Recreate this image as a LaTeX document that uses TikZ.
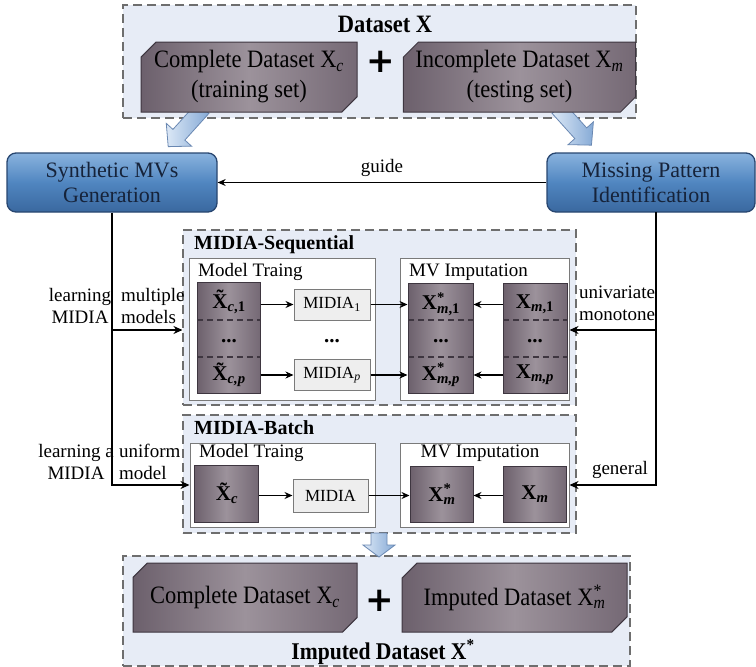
\documentclass[tikz,border=0pt]{standalone}
\usepackage{fontspec}
\setmainfont{Liberation Serif}
\newfontfamily\tall{Liberation Serif}[FakeStretch=0.9]
\newfontfamily\plusfont{DejaVu Sans}
\usetikzlibrary{shapes.misc,arrows.meta}
\definecolor{panel}{HTML}{E7ECF6}
\definecolor{paneledge}{HTML}{6E6E6E}
\definecolor{mauveL}{HTML}{6C606C}
\definecolor{mauveM}{HTML}{9C929B}
\definecolor{mauveR}{HTML}{756975}
\definecolor{mauveEdge}{HTML}{3E3640}
\definecolor{blueT}{HTML}{8AB3DE}
\definecolor{blueM}{HTML}{5086C0}
\definecolor{blueB}{HTML}{3A689F}
\definecolor{blueEdge}{HTML}{284670}
\definecolor{blueText}{HTML}{16233A}
\definecolor{arrL}{HTML}{DCE8F6}
\definecolor{arrR}{HTML}{86AAD6}
\definecolor{arrEdge}{HTML}{6A88B2}
\definecolor{boxedge}{HTML}{7A7A7A}
\definecolor{midiafill}{HTML}{EEEEEE}
\newcommand\Xstar[1]{X\rlap{\textsuperscript{*}}\textsubscript{#1}}
\tikzset{
  panelbox/.style={draw=paneledge, line width=1.1pt, dash pattern=on 9pt off 5pt, fill=panel, inner sep=0pt},
  databox/.style={chamfered rectangle, chamfered rectangle corners={north west,south east},
    chamfered rectangle xsep=12pt, chamfered rectangle angle=45, draw=mauveEdge, line width=1pt,
    left color=mauveL, right color=mauveR, middle color=mauveM, inner sep=0pt, align=center,
    font=\tall\fontsize{25}{30}\selectfont},
  stackbox/.style={chamfered rectangle, chamfered rectangle corners={north east,south west},
    chamfered rectangle xsep=9pt, chamfered rectangle angle=45, draw=mauveEdge, line width=1pt,
    left color=mauveL, right color=mauveR, middle color=mauveM, inner sep=0pt},
  stk/.style={font=\fontsize{21}{24}\selectfont\bfseries, inner sep=1pt},
  bluebox/.style={rounded corners=9pt, draw=blueEdge, line width=1.3pt, top color=blueT,
    bottom color=blueB, middle color=blueM, text=blueText, align=center, inner sep=0pt,
    font=\fontsize{22}{25}\selectfont},
  whitebox/.style={draw=boxedge, line width=1pt, fill=white, inner sep=0pt},
  midiabox/.style={draw=boxedge, line width=1pt, fill=midiafill, inner sep=0pt, font=\fontsize{17}{20}\selectfont},
  ttl/.style={font=\fontsize{20}{24}\selectfont\bfseries, anchor=west, inner sep=0pt},
  subttl/.style={font=\fontsize{19}{22}\selectfont, inner sep=0pt},
  lbl/.style={font=\fontsize{19}{22}\selectfont, align=center, inner sep=0pt},
  plussign/.style={font=\plusfont\bfseries\fontsize{34}{34}\selectfont, inner sep=0pt},
  conn/.style={line width=1.1pt, -{Stealth[length=8pt,width=7pt]}},
  wire/.style={line width=1.5pt, -{Stealth[length=9pt,width=8pt]}},
  sepline/.style={draw=mauveEdge, line width=1.2pt, dash pattern=on 6pt off 4pt},
  barrow/.style={draw=arrEdge, line width=0.8pt, left color=arrL, right color=arrR}
}
\begin{document}
\begin{tikzpicture}[x=1pt,y=-1pt]
\useasboundingbox (0,0) rectangle (756,667);
% ---------- top panel ----------
\node[panelbox, minimum width=513pt, minimum height=113pt] (P0) at (379.5,61.5) {};
\node[font=\tall\bfseries\fontsize{25}{28}\selectfont, inner sep=0pt] (T0) at (385,24) {Dataset X};
\path[barrow, shift={(203,108)}, rotate=228] (0,-8) -- (36,-8) -- (36,-17) -- (52,0) -- (36,17) -- (36,8) -- (0,8) -- cycle;
\path[barrow, shift={(558,108)}, rotate=-48] (0,-8) -- (34,-8) -- (34,-17) -- (50,0) -- (34,17) -- (34,8) -- (0,8) -- cycle;
\node[databox, minimum width=216pt, minimum height=70pt] (A) at (249,77) {Complete Dataset X\textsubscript{\textit{c}}\\(training set)};
\node[databox, minimum width=225pt, minimum height=70pt] (B) at (519.5,77) {Incomplete Dataset X\textsubscript{\textit{m}}\\(testing set)};
\node[plussign] (pl1) at (381,62) {+};
% ---------- blue boxes ----------
\node[bluebox, minimum width=210pt, minimum height=59pt] (S) at (112,182.5) {Synthetic MVs\\Generation};
\node[bluebox, minimum width=208pt, minimum height=59pt] (M) at (651,182.5) {Missing Pattern\\Identification};
\draw[conn] (M.west) -- (S.east) node[lbl, midway, above=5pt] (g) {guide};
% ---------- sequential panel ----------
\node[panelbox, minimum width=393pt, minimum height=175pt] (Pseq) at (379.5,317.5) {};
\node[ttl] (Tseq) at (194,245) {MIDIA-Sequential};
\node[whitebox, minimum width=186pt, minimum height=142pt] (MTs) at (282,329) {};
\node[subttl, anchor=west] (MTsT) at (198,272) {Model Traing};
\node[whitebox, minimum width=169pt, minimum height=142pt] (MVs) at (484.5,329) {};
\node[subttl, anchor=west] (MVsT) at (409,272) {MV Imputation};
\node[stackbox, minimum width=63pt, minimum height=111pt] (XcS) at (228.5,337.5) {};
\draw[sepline] (197,320) -- (260,320);
\draw[sepline] (197,357) -- (260,357);
\node[stk] (xc1) at (229,302) {\~{X}\textsubscript{\textit{c},1}};
\node[stk] (xcd) at (229,341) {...};
\node[stk] (xcp) at (229,375) {\~{X}\textsubscript{\textit{c,p}}};
\node[midiabox, minimum width=76pt, minimum height=31pt] (MD1) at (332,304.5) {MIDIA\textsubscript{1}};
\node[stk] (mdd) at (332,341) {...};
\node[midiabox, minimum width=76pt, minimum height=31pt] (MDp) at (332,375) {MIDIA\textsubscript{\textit{p}}};
\node[stackbox, minimum width=65pt, minimum height=110pt] (XsS) at (440.5,338) {};
\draw[sepline] (408,320) -- (473,320);
\draw[sepline] (408,357) -- (473,357);
\node[stk] (xs1) at (441,304) {\Xstar{\textit{m},1}};
\node[stk] (xsd) at (441,341) {...};
\node[stk] (xsp) at (441,375) {\Xstar{\textit{m,p}}};
\node[stackbox, minimum width=64pt, minimum height=110pt] (XmS) at (535,338) {};
\draw[sepline] (503,320) -- (567,320);
\draw[sepline] (503,357) -- (567,357);
\node[stk] (xm1) at (535,304) {X\textsubscript{\textit{m},1}};
\node[stk] (xmd) at (535,341) {...};
\node[stk] (xmp) at (535,375) {X\textsubscript{\textit{m,p}}};
\draw[conn] (MD1.west -| XcS.east) -- (MD1.west);
\draw[conn] (MDp.west -| XcS.east) -- (MDp.west);
\draw[conn] (MD1.east) -- (MD1.east -| XsS.west);
\draw[conn] (MDp.east) -- (MDp.east -| XsS.west);
\draw[conn] (MD1.east -| XmS.west) -- (MD1.east -| XsS.east);
\draw[conn] (MDp.east -| XmS.west) -- (MDp.east -| XsS.east);
% ---------- batch panel ----------
\node[panelbox, minimum width=393pt, minimum height=118pt] (Pbat) at (379.5,474) {};
\node[ttl] (Tbat) at (194,428) {MIDIA-Batch};
\node[whitebox, minimum width=185pt, minimum height=84pt] (MTb) at (282.5,485) {};
\node[subttl, anchor=west] (MTbT) at (199,453) {Model Traing};
\node[whitebox, minimum width=169pt, minimum height=84pt] (MVb) at (484.5,485) {};
\node[subttl] (MVbT) at (480,453) {MV Imputation};
\node[stackbox, minimum width=64pt, minimum height=57pt] (Xcb) at (226,493.5) {};
\node[stk] (xcbt) at (227,493) {\~{X}\textsubscript{\textit{c}}};
\node[midiabox, minimum width=75pt, minimum height=33pt] (MD) at (330.5,495.5) {MIDIA};
\node[stackbox, minimum width=63pt, minimum height=56pt] (Xsb) at (441.5,494) {};
\node[stk] (xsbt) at (442,494) {\Xstar{\textit{m}}};
\node[stackbox, minimum width=63pt, minimum height=56pt] (Xmb) at (534.5,494) {};
\node[stk] (xmbt) at (535,494) {X\textsubscript{\textit{m}}};
\draw[conn] (MD.west -| Xcb.east) -- (MD.west);
\draw[conn] (MD.east) -- (MD.east -| Xsb.west);
\draw[conn] (MD.east -| Xmb.west) -- (MD.east -| Xsb.east);
% ---------- side wires ----------
\coordinate (jl) at (112,330);
\coordinate (jr) at (656,330);
\coordinate (mr) at (656,212);
\draw[wire] (S.south) |- (MTb.west);
\draw[wire] (jl) -- (jl -| Pseq.west);
\draw[wire] (mr) |- (MVb.east);
\draw[wire] (jr) -- (jr -| MVs.east);
\node[lbl] (l1a) at (80,306) {learning\\MIDIA};
\node[lbl, anchor=west, align=left] (l1b) at (121,306) {multiple\\models};
\node[lbl] (l2a) at (76,462) {learning a\\MIDIA};
\node[lbl, anchor=west, align=left] (l2b) at (119,462) {uniform\\model};
\node[lbl] (l3) at (617,303) {univariate\\monotone};
\node[lbl] (l4) at (620,470) {general};
% ---------- bottom panel ----------
\node[panelbox, minimum width=507pt, minimum height=110pt] (P1) at (376.5,611) {};
\path[barrow, shift={(379,533)}, rotate=-90] (0,-8) -- (12,-8) -- (12,-16) -- (24,0) -- (12,16) -- (12,8) -- (0,8) -- cycle;
\node[databox, minimum width=224pt, minimum height=69pt] (C) at (245,597.5) {Complete Dataset X\textsubscript{\textit{c}}};
\node[databox, minimum width=225pt, minimum height=69pt] (D) at (514.5,597.5) {Imputed Dataset \Xstar{\textit{m}}};
\node[plussign] (pl2) at (380,601) {+};
\node[font=\tall\bfseries\fontsize{24}{28}\selectfont, inner sep=0pt] (T1) at (383,652) {Imputed Dataset X\textsuperscript{*}};
\end{tikzpicture}
\end{document}
